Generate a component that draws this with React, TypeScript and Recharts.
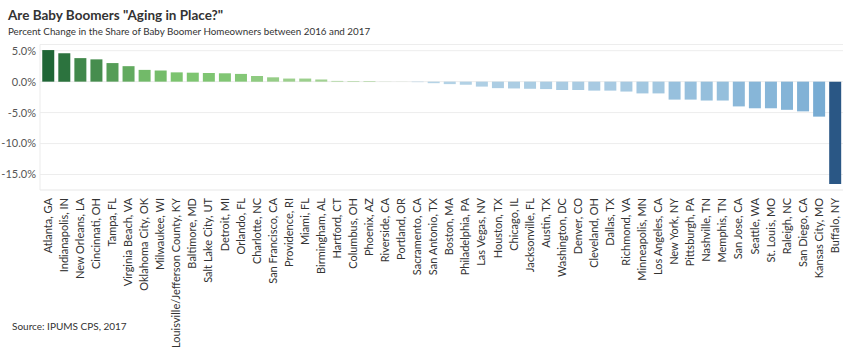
import React from "react";
import {
  BarChart,
  Bar,
  XAxis,
  YAxis,
  CartesianGrid,
  Cell,
} from "recharts";

const cities = [
  "Atlanta, GA",
  "Indianapolis, IN",
  "New Orleans, LA",
  "Cincinnati, OH",
  "Tampa, FL",
  "Virginia Beach, VA",
  "Oklahoma City, OK",
  "Milwaukee, WI",
  "Louisville/Jefferson County, KY",
  "Baltimore, MD",
  "Salt Lake City, UT",
  "Detroit, MI",
  "Orlando, FL",
  "Charlotte, NC",
  "San Francisco, CA",
  "Providence, RI",
  "Miami, FL",
  "Birmingham, AL",
  "Hartford, CT",
  "Columbus, OH",
  "Phoenix, AZ",
  "Riverside, CA",
  "Portland, OR",
  "Sacramento, CA",
  "San Antonio, TX",
  "Boston, MA",
  "Philadelphia, PA",
  "Las Vegas, NV",
  "Houston, TX",
  "Chicago, IL",
  "Jacksonville, FL",
  "Austin, TX",
  "Washington, DC",
  "Denver, CO",
  "Cleveland, OH",
  "Dallas, TX",
  "Richmond, VA",
  "Minneapolis, MN",
  "Los Angeles, CA",
  "New York, NY",
  "Pittsburgh, PA",
  "Nashville, TN",
  "Memphis, TN",
  "San Jose, CA",
  "Seattle, WA",
  "St. Louis, MO",
  "Raleigh, NC",
  "San Diego, CA",
  "Kansas City, MO",
  "Buffalo, NY",
];

// percent change 2016 -> 2017
const changes = [
  5.1, 4.6, 3.8, 3.6, 3.0, 2.5, 1.9, 1.8, 1.5, 1.45,
  1.4, 1.35, 1.25, 0.9, 0.7, 0.5, 0.5, 0.35, 0.12, 0.1,
  0.1, 0.02, 0.01, -0.08, -0.25, -0.4, -0.5, -0.8, -1.05, -1.1,
  -1.15, -1.2, -1.35, -1.35, -1.45, -1.45, -1.6, -1.9, -1.9, -2.9,
  -2.9, -3.05, -3.05, -4.0, -4.3, -4.3, -4.55, -4.8, -5.65, -16.55,
];

const yTicks = [-15, -10, -5, 0, 5];

const data = cities.map((city, i) => ({ city, value: changes[i] }));

const FONT = "Lato, 'Open Sans', sans-serif";

function hex(c: string) {
  return [1, 3, 5].map((k) => parseInt(c.slice(k, k + 2), 16));
}
function mix(a: string, b: string, t: number) {
  const A = hex(a);
  const B = hex(b);
  const m = A.map((v, i) => Math.round(v + (B[i] - v) * t));
  return `rgb(${m[0]},${m[1]},${m[2]})`;
}
function scale(v: number, stops: [number, string][]) {
  for (let i = 0; i < stops.length - 1; i++) {
    const [v0, c0] = stops[i];
    const [v1, c1] = stops[i + 1];
    if (v <= v1 || i === stops.length - 2) {
      const t = Math.max(0, Math.min(1, (v - v0) / (v1 - v0)));
      return mix(c0, c1, t);
    }
  }
  return stops[0][1];
}
function colorFor(v: number) {
  if (v >= 0)
    return scale(v, [
      [0, "#acd59c"],
      [1.5, "#7cc46f"],
      [5.1, "#1f6636"],
    ]);
  return scale(-v, [
    [0, "#b8d5e7"],
    [5.65, "#78acd3"],
    [16.55, "#2a5785"],
  ]);
}

const CityTick = (props: any) => {
  const { x, y, payload } = props;
  return (
    <text
      x={x}
      y={y}
      transform={`rotate(-90, ${x}, ${y})`}
      textAnchor="end"
      dy="0.35em"
      fontSize={11}
      fontFamily={FONT}
      fill="#333"
    >
      {payload.value}
    </text>
  );
};

export default function App() {
  return (
    <div
      style={{
        position: "absolute",
        left: 0,
        top: 0,
        width: 850,
        height: 350,
        background: "#fff",
        fontFamily: FONT,
      }}
    >
      <div
        style={{
          position: "absolute",
          left: 8,
          top: 7,
          fontSize: 13.5,
          fontWeight: 700,
          color: "#333",
          whiteSpace: "nowrap",
        }}
      >
        Are Baby Boomers "Aging in Place?"
      </div>
      <div
        style={{
          position: "absolute",
          left: 8,
          top: 25,
          fontSize: 9.8,
          color: "#333",
          whiteSpace: "nowrap",
        }}
      >
        Percent Change in the Share of Baby Boomer Homeowners between 2016 and 2017
      </div>
      <div style={{ position: "absolute", left: 0, top: 0 }}>
        <BarChart
          width={850}
          height={350}
          data={data}
          margin={{ top: 44.5, right: 7, bottom: 10, left: 0 }}
          barCategoryGap="14%"
        >
          <CartesianGrid vertical={false} stroke="#ededed" />
          <XAxis
            dataKey="city"
            interval={0}
            height={150}
            tickLine={false}
            axisLine={{ stroke: "#f0f0f0" }}
            tick={<CityTick />}
            tickMargin={2}
          />
          <YAxis
            width={40}
            domain={[-17.5, 6]}
            ticks={yTicks}
            tickFormatter={(v: number) => `${v.toFixed(1)}%`}
            tickLine={false}
            tickSize={0}
            tickMargin={4}
            axisLine={{ stroke: "#ebebeb" }}
            tick={{ fontSize: 11, fill: "#555", fontFamily: FONT }}
          />
          <Bar dataKey="value" isAnimationActive={false}>
            {data.map((d) => (
              <Cell key={d.city} fill={colorFor(d.value)} />
            ))}
          </Bar>
        </BarChart>
      </div>
      <div
        style={{
          position: "absolute",
          left: 12,
          top: 320,
          fontSize: 10,
          color: "#333",
          whiteSpace: "nowrap",
        }}
      >
        Source: IPUMS CPS, 2017
      </div>
    </div>
  );
}
